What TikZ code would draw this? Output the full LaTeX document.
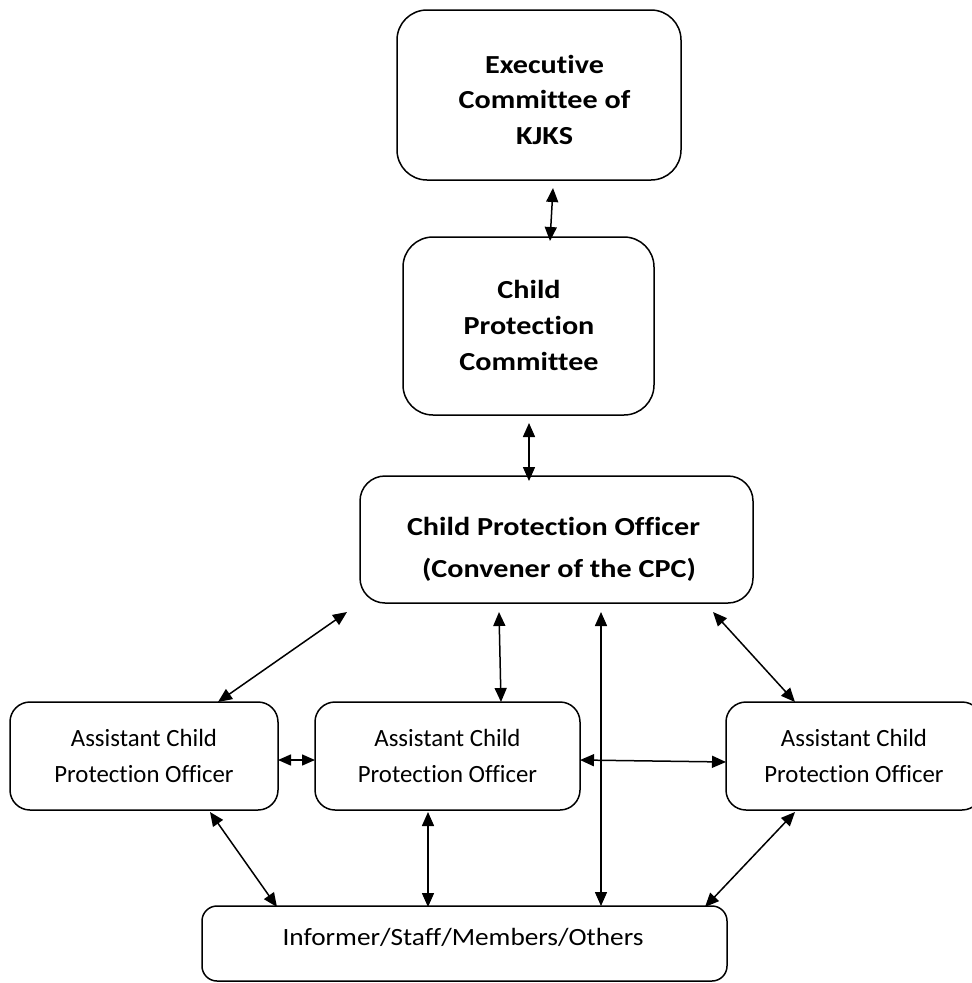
\documentclass[tikz,border=0pt]{standalone}
\usepackage{fontspec}
\setmainfont{Carlito}[Ligatures=NoCommon,RawFeature={-liga;-clig}]
\newfontfamily\widebold{Carlito}[FakeStretch=1.16,Ligatures=NoCommon,RawFeature={-liga;-clig}]
\newfontfamily\widereg{Carlito}[FakeStretch=1.1,Ligatures=NoCommon,RawFeature={-liga;-clig}]
\usetikzlibrary{arrows.meta,calc}
\begin{document}
\begin{tikzpicture}[x=1pt,y=-1pt,
  box/.style={draw=black,line width=1.5pt,inner sep=0pt,outer sep=0pt,rounded corners=#1},
  box/.default=25pt,
  boldtxt/.style={font=\widebold\bfseries\fontsize{26}{30}\selectfont,inner sep=0pt,anchor=base},
  regtxt/.style={font=\fontsize{24.8}{28}\selectfont,inner sep=0pt,anchor=base},
  bottxt/.style={font=\widereg\fontsize{24.8}{28}\selectfont,inner sep=0pt,anchor=base},
  link/.style={line width=1.5pt,{Triangle[length=14pt,width=12pt]}-{Triangle[length=14pt,width=12pt]}},
  shortlink/.style={line width=1.5pt,{Triangle[length=13pt,width=11pt]}-{Triangle[length=13pt,width=11pt]}}]
\useasboundingbox (0,0) rectangle (972,983);
% boxes
\node[box=30pt,minimum width=284pt,minimum height=170pt] (exec) at (539,95) {};
\node[box=30pt,minimum width=251pt,minimum height=178pt] (cpc) at (528.5,326) {};
\node[box=25pt,minimum width=393pt,minimum height=127pt] (cpo) at (556.5,539.5) {};
\node[box=20pt,minimum width=268pt,minimum height=108pt] (acl) at (144,756) {};
\node[box=20pt,minimum width=265pt,minimum height=108pt] (acm) at (447.5,756) {};
\node[box=20pt,minimum width=256pt,minimum height=108pt] (acr) at (854,756) {};
\node[box=15pt,minimum width=525pt,minimum height=75pt] (bot) at (464.5,943.5) {};
% texts
\node[boldtxt] (exec1) at (544.5,73) {Executive};
\node[boldtxt] (exec2) at (544.5,108.5) {Committee of};
\node[boldtxt] (exec3) at (544.5,144) {KJKS};
\node[boldtxt] (cpc1) at (529,298) {Child};
\node[boldtxt] (cpc2) at (529,334) {Protection};
\node[boldtxt] (cpc3) at (529,370) {Committee};
\node[boldtxt] (cpo1) at (553.5,535) {Child Protection Officer};
\node[boldtxt] (cpo2) at (559,577) {(Convener of the CPC)};
\node[regtxt] (acl1) at (144,746) {Assistant Child};
\node[regtxt] (acl2) at (144,782) {Protection Officer};
\node[regtxt] (acm1) at (447.5,746) {Assistant Child};
\node[regtxt] (acm2) at (447.5,782) {Protection Officer};
\node[regtxt] (acr1) at (854,746) {Assistant Child};
\node[regtxt] (acr2) at (854,782) {Protection Officer};
\node[bottxt] (bot1) at (463,945) {Informer/Staff/Members/Others};
% connectors
\draw[link] ($(exec.south)+(14,8)$) -- ($(cpc.north)+(21.5,4)$);
\draw[link] ($(cpc.south)+(0.5,8)$) -- ($(cpo.north)+(-27.5,5)$);
\draw[link] ($(cpo.south west)+(-13,9)$) -- ($(acl.north west)+(208,0)$);
\draw[link] ($(cpo.south west)+(139,9)$) -- ($(acm.north west)+(186,0)$);
\draw[link] ($(cpo.south west)+(241,9)$) -- ($(bot.north west)+(399,0)$);
\draw[link] ($(cpo.south east)+(-40,9)$) -- ($(acr.north west)+(69,0)$);
\draw[shortlink] ($(acl.east)+(0,4)$) -- ($(acm.west)+(0,4)$);
\draw[link] ($(acm.east)+(0,4)$) -- ($(acr.west)+(0,6)$);
\draw[link] ($(acl.south west)+(200,2)$) -- ($(bot.north west)+(75,1)$);
\draw[link] ($(acm.south west)+(113,2)$) -- ($(bot.north west)+(226,1)$);
\draw[link] ($(acr.south west)+(69,2)$) -- ($(bot.north east)+(-22,1)$);
\end{tikzpicture}
\end{document}
